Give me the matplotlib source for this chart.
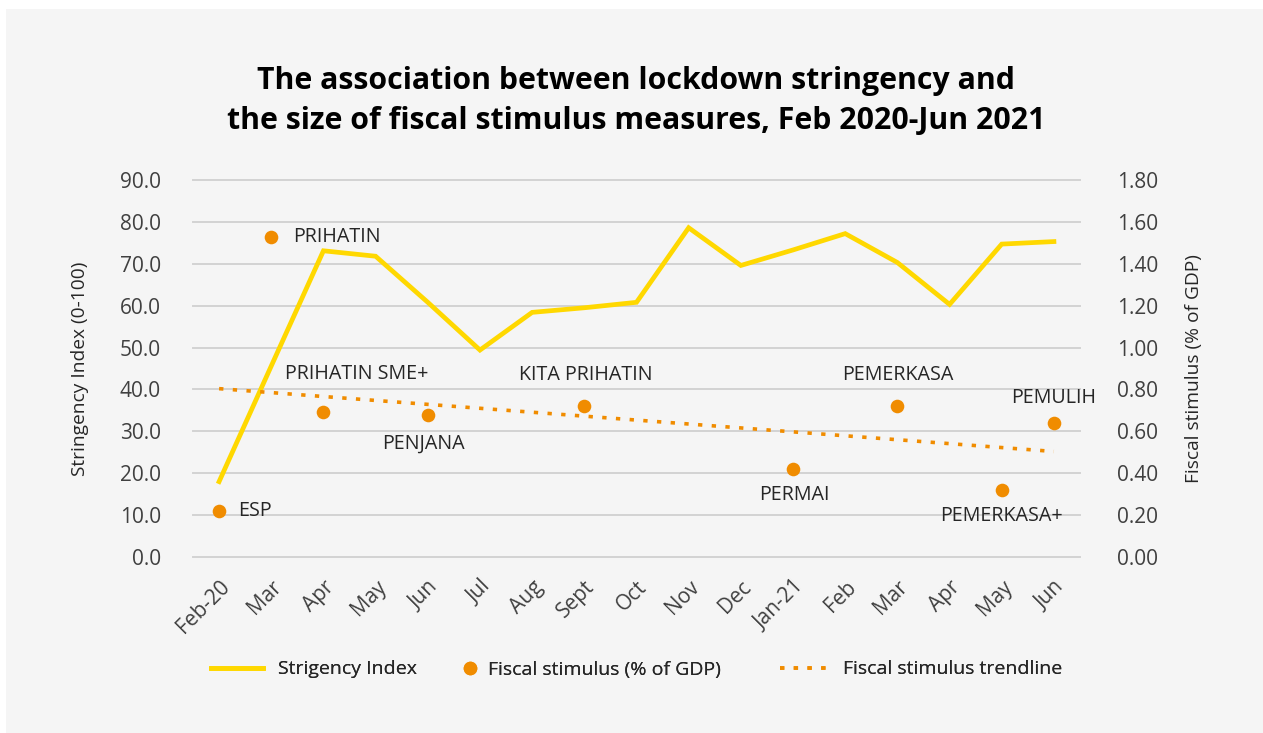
import numpy as np
import matplotlib
matplotlib.use("Agg")
import matplotlib.pyplot as plt
from matplotlib.patches import Rectangle
from matplotlib.lines import Line2D

plt.rcParams['font.family'] = ['Open Sans', 'DejaVu Sans']

months = ["Feb-20", "Mar", "Apr", "May", "Jun", "Jul", "Aug", "Sept", "Oct",
          "Nov", "Dec", "Jan-21", "Feb", "Mar", "Apr", "May", "Jun"]
stringency = [18.0, 45.6, 73.1, 71.8, 60.8, 49.4, 58.4, 59.5, 60.8,
              78.6, 69.6, 73.3, 77.2, 70.3, 60.3, 74.7, 75.3]

stimulus_names = ["ESP", "PRIHATIN", "PRIHATIN SME+", "PENJANA", "KITA PRIHATIN",
                  "PERMAI", "PEMERKASA", "PEMERKASA+", "PEMULIH"]
stimulus_month_idx = [0, 1, 2, 4, 7, 11, 13, 15, 16]
stimulus_gdp = [0.22, 1.53, 0.69, 0.68, 0.72, 0.42, 0.72, 0.32, 0.64]

left_ticks = [0, 10, 20, 30, 40, 50, 60, 70, 80, 90]
right_ticks = [0.0, 0.2, 0.4, 0.6, 0.8, 1.0, 1.2, 1.4, 1.6, 1.8]

# label placement: (dx, dy) in pixels and horizontal alignment
label_offsets = [(19, 0, 'left'), (22, 0, 'left'), (33, 38, 'center'),
                 (-4, -29, 'center'), (1, 31, 'center'), (1, -26, 'center'),
                 (0, 31, 'center'), (0, -26, 'center'), (0, 25, 'center')]

YELLOW = "#FFD800"
ORANGE = "#F08C00"
GRID = "#d3d3d3"
TICK_C = "#404040"
TEXT_C = "#262626"
TREND_LW = 2.6
TREND_DASH = (1.2, 2.6)

W, H = 1263, 733
fig = plt.figure(figsize=(W / 100, H / 100), dpi=100, facecolor="white")
fig.patches.append(Rectangle((6 / W, 0), 1 - 6 / W, 1 - 9 / H,
                             transform=fig.transFigure, facecolor="#f5f5f5",
                             edgecolor="none", zorder=-10))

ax = fig.add_axes([193 / W, 1 - 557 / H, (1080 - 193) / W, (557 - 180) / H])
ax.set_facecolor("none")
x = np.arange(len(months))
ax.plot(x, stringency, color=YELLOW, lw=3.4, solid_joinstyle='miter', zorder=3)
ax.set_xlim(-0.5, len(months) - 0.5)
ax.set_ylim(0, 90)
ax.set_yticks(left_ticks)
ax.set_yticklabels([f"{v:.1f}" for v in left_ticks])
ax.set_xticks(x)
ax.set_xticklabels(months, rotation=45, ha='right', va='top',
                   rotation_mode='anchor')
ax.tick_params(axis='both', length=0, labelsize=15, labelcolor=TICK_C)
ax.tick_params(axis='y', pad=23)
ax.tick_params(axis='x', pad=14)
ax.grid(axis='y', color=GRID, lw=1.4)
ax.set_axisbelow(True)
for gl in ax.yaxis.get_gridlines():
    gl.set_clip_on(False)
for s in ax.spines.values():
    s.set_visible(False)
ax.set_ylabel("Stringency Index (0-100)", fontsize=13.8, color=TEXT_C, labelpad=22)

ax2 = ax.twinx()
ax2.set_ylim(0, 1.8)
ax2.set_yticks(right_ticks)
ax2.set_yticklabels([f"{v:.2f}" for v in right_ticks])
ax2.tick_params(axis='y', length=0, labelsize=15, labelcolor=TICK_C, pad=27)
for s in ax2.spines.values():
    s.set_visible(False)
ax2.set_ylabel("Fiscal stimulus (% of GDP)", fontsize=13.8, color=TEXT_C, labelpad=19)

# linear trend of the stimulus packages across the whole period
coef = np.polyfit(stimulus_month_idx, stimulus_gdp, 1)
trend = np.polyval(coef, x)
ax2.plot(x, trend, color=ORANGE, lw=TREND_LW, dashes=TREND_DASH, zorder=2)
ax2.plot(stimulus_month_idx, stimulus_gdp, 'o', color=ORANGE, ms=9.8,
         mec='none', zorder=4)

for name, xi, val, (dx, dy, ha) in zip(stimulus_names, stimulus_month_idx,
                                        stimulus_gdp, label_offsets):
    ax2.annotate(name, (xi, val), xytext=(dx, dy), textcoords='offset pixels',
                 ha=ha, va='center', fontsize=14.2, color=TEXT_C)

fig.text(636 / W, 1 - 81 / H, "The association between lockdown stringency and",
         ha='center', va='center', fontsize=21.8, fontweight='bold', color='black')
fig.text(636 / W, 1 - 121 / H, "the size of fiscal stimulus measures, Feb 2020-Jun 2021",
         ha='center', va='center', fontsize=21.8, fontweight='bold', color='black')

# legend: one entry per block so each keeps its own handle width
legend_y = 1 - 669.5 / H
entries = [
    (Line2D([], [], color=YELLOW, lw=3.4), "Strigency Index", 211, 2.65, 0.8),
    (Line2D([], [], marker='o', ls='none', color=ORANGE, ms=9.8, mec='none'),
     "Fiscal stimulus (% of GDP)", 460, 1.0, 0.45),
    (Line2D([], [], color=ORANGE, lw=TREND_LW, dashes=TREND_DASH),
     "Fiscal stimulus trendline", 780, 2.4, 0.82),
]
for handle, label, x0, hl, pad in entries:
    lg = fig.legend([handle], [label], loc='center left',
                    bbox_to_anchor=(x0 / W, legend_y), frameon=False,
                    fontsize=14, handlelength=hl, handletextpad=pad,
                    borderpad=0, borderaxespad=0, labelcolor=TEXT_C)
    fig.add_artist(lg)

fig.savefig("out.png", dpi=100, facecolor=fig.get_facecolor())
